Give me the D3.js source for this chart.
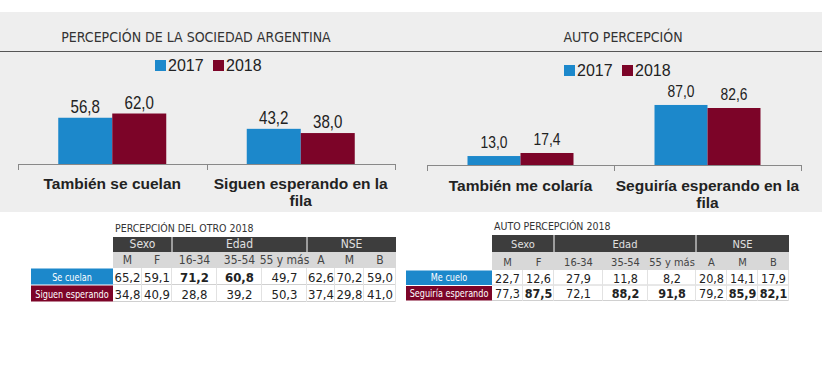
<!DOCTYPE html>
<html>
<head>
<meta charset="utf-8">
<script src="https://cdn.jsdelivr.net/npm/d3@7"></script>
<style>
  body { margin: 0; background: #fff; }
  svg { display: block; }
  .sans { font-family: "Liberation Sans", Arial, sans-serif; }
  .tbl { font-family: "DejaVu Sans Condensed", "DejaVu Sans", sans-serif; }
</style>
</head>
<body>
<svg width="822" height="390"></svg>
<script>
// --- data ---
var years = ["2017", "2018"];

var socCats = ["También se cuelan", "Siguen esperando en la fila"];
var soc2017 = [56.8, 43.2];
var soc2018 = [62.0, 38.0];

var autoCats = ["También me colaría", "Seguiría esperando en la fila"];
var auto2017 = [13.0, 87.0];
var auto2018 = [17.4, 82.6];

var groups = ["Sexo", "Edad", "NSE"];
var groupSpan = [2, 3, 3];
var cols = ["M", "F", "16-34", "35-54", "55 y más", "A", "M", "B"];

var otroRows = ["Se cuelan", "Siguen esperando"];
var otroSeCuelan = [65.2, 59.1, 71.2, 60.8, 49.7, 62.6, 70.2, 59.0];
var otroSiguen   = [34.8, 40.9, 28.8, 39.2, 50.3, 37.4, 29.8, 41.0];
var otroBold = [[2, 3], []];

var autoRows = ["Me cuelo", "Seguiría esperando"];
var autoMeCuelo  = [22.7, 12.6, 27.9, 11.8, 8.2, 20.8, 14.1, 17.9];
var autoSeguiria = [77.3, 87.5, 72.1, 88.2, 91.8, 79.2, 85.9, 82.1];
var autoBold = [[], [1, 3, 4, 6, 7]];

var colors = { "2017": "#1c88cb", "2018": "#7c0428" };
var fmt = function (v) { return d3.format(".1f")(v).replace(".", ","); };

var svg = d3.select("svg");

// grey band behind both charts
svg.append("rect").attr("x", 0).attr("y", 12).attr("width", 822).attr("height", 200).attr("fill", "#eeeeee");
svg.append("line").attr("x1", 0).attr("x2", 822).attr("y1", 51.5).attr("y2", 51.5)
  .attr("stroke", "#555").attr("stroke-width", 1.2);

function barChart(o) {
  var g = svg.append("g");
  var data = o.cats.map(function (c, i) { return { cat: c, vals: [o.a[i], o.b[i]] }; });

  var x0 = d3.scaleBand().domain(o.cats).range(o.xr);
  var x1 = d3.scaleBand().domain(years)
    .range([(x0.bandwidth() - o.group) / 2, (x0.bandwidth() + o.group) / 2]);
  var y = d3.scaleLinear().domain([0, o.max]).range([o.base, o.top]);

  g.append("text").attr("x", o.titleX).attr("y", 42).attr("text-anchor", "middle")
    .attr("font-family", "DejaVu Sans Condensed").attr("font-size", 14).attr("fill", "#333")
    .text(o.title);

  // legend
  var lg = g.append("g").attr("transform", "translate(" + o.legX + "," + o.legY + ")");
  years.forEach(function (yr, i) {
    lg.append("rect").attr("x", i * 58).attr("y", -11).attr("width", 11).attr("height", 11).attr("fill", colors[yr]);
    lg.append("text").attr("class", "sans").attr("x", i * 58 + 13).attr("y", 0)
      .attr("font-size", 16).attr("fill", "#222").text(yr);
  });

  var cg = g.selectAll(".cat").data(data).enter().append("g")
    .attr("transform", function (d) { return "translate(" + x0(d.cat) + ",0)"; });

  var pairs = function (d) { return d.vals.map(function (v, i) { return { yr: years[i], v: v }; }); };

  cg.selectAll("rect").data(pairs).enter().append("rect")
    .attr("x", function (d) { return x1(d.yr); })
    .attr("width", x1.bandwidth())
    .attr("y", function (d) { return y(d.v); })
    .attr("height", function (d) { return y(0) - y(d.v); })
    .attr("fill", function (d) { return colors[d.yr]; });

  // value labels, squeezed horizontally like the narrow font in the original
  cg.selectAll(".val").data(pairs).enter().append("text").attr("class", "sans")
    .attr("transform", function (d) {
      return "translate(" + (x1(d.yr) + x1.bandwidth() / 2) + "," + (y(d.v) - o.gap) + ") scale(0.84,1)";
    })
    .attr("text-anchor", "middle").attr("font-size", o.valSize).attr("fill", "#222")
    .text(function (d) { return fmt(d.v); });

  // axis line with ticks at band edges
  g.append("line").attr("x1", o.xr[0]).attr("x2", o.xr[1]).attr("y1", o.base + 0.5).attr("y2", o.base + 0.5)
    .attr("stroke", "#888");
  var edges = o.cats.map(function (c) { return x0(c); }).concat([o.xr[1]]);
  g.selectAll(".tk").data(edges).enter().append("line")
    .attr("x1", function (d) { return Math.round(d) + 0.5; }).attr("x2", function (d) { return Math.round(d) + 0.5; })
    .attr("y1", o.base).attr("y2", o.base + 6).attr("stroke", "#888");

  // category labels (wrapped)
  cg.append("text").attr("class", "sans")
    .attr("text-anchor", "middle").attr("font-size", 15.5).attr("font-weight", "bold").attr("fill", "#222")
    .selectAll("tspan").data(function (d) {
      var w = d.cat.split(" ");
      return w.length > 3 ? [w.slice(0, -1).join(" "), w[w.length - 1]] : [d.cat];
    })
    .enter().append("tspan")
    .attr("x", x0.bandwidth() / 2)
    .attr("y", function (d, i) { return o.base + o.labY + i * 17; })
    .text(function (d) { return d; });
}

barChart({ title: "PERCEPCIÓN DE LA SOCIEDAD ARGENTINA", titleX: 196, cats: socCats, a: soc2017, b: soc2018,
  xr: [18, 395], base: 164, top: 107, max: 70, group: 108, gap: 5, valSize: 18, legX: 155, legY: 71, labY: 25 });
barChart({ title: "AUTO PERCEPCIÓN", titleX: 623, cats: autoCats, a: auto2017, b: auto2018,
  xr: [427, 801], base: 165, top: 96, max: 100, group: 106, gap: 8, valSize: 16.5, legX: 564, legY: 76, labY: 26 });

function table(o) {
  var g = svg.append("g");
  var xs = [o.x];
  o.widths.forEach(function (w, i) { xs.push(xs[i] + w); });
  var right = xs[xs.length - 1];

  g.append("text").attr("class", "tbl").attr("x", o.x + 2).attr("y", o.y - 5)
    .attr("font-size", 10.5).attr("fill", "#333").text(o.title);

  // group header
  g.append("rect").attr("x", o.x).attr("y", o.y).attr("width", right - o.x).attr("height", o.h[0]).attr("fill", "#3d3d3d");
  var ci = 0;
  groups.forEach(function (gr, i) {
    var a = xs[ci], b = xs[ci + groupSpan[i]];
    g.append("text").attr("class", "tbl").attr("x", (a + b) / 2).attr("y", o.y + o.h[0] - 4)
      .attr("text-anchor", "middle").attr("font-size", o.fs).attr("fill", "#e0e0e0").text(gr);
    if (i > 0) g.append("line").attr("x1", a).attr("x2", a).attr("y1", o.y).attr("y2", o.y + o.h[0] + o.h[1]).attr("stroke", "#fff");
    ci += groupSpan[i];
  });

  // column header
  var y2 = o.y + o.h[0];
  g.append("rect").attr("x", o.x).attr("y", y2).attr("width", right - o.x).attr("height", o.h[1]).attr("fill", "#d8d8d8");
  g.selectAll(".ch").data(cols).enter().append("text").attr("class", "tbl")
    .attr("x", function (d, i) { return (xs[i] + xs[i + 1]) / 2; }).attr("y", y2 + o.h[1] - 4)
    .attr("text-anchor", "middle").attr("font-size", o.fs).attr("fill", "#444").text(function (d) { return d; });

  // data rows
  var ry = y2 + o.h[1];
  o.rows.forEach(function (lab, r) {
    var yy = ry + r * o.h[2];
    g.append("rect").attr("x", o.lx).attr("y", yy + 0.5).attr("width", o.x - o.lx).attr("height", o.h[2] - 1)
      .attr("fill", r === 0 ? colors["2017"] : colors["2018"]);
    g.append("text").attr("class", "tbl")
      .attr("transform", "translate(" + ((o.lx + o.x) / 2) + "," + (yy + o.h[2] - 4.5) + ") scale(0.82,1)")
      .attr("text-anchor", "middle").attr("font-size", o.lfs).attr("fill", "#fff").text(lab);
    g.append("line").attr("x1", o.x).attr("x2", right).attr("y1", yy + o.h[2] - 0.5).attr("y2", yy + o.h[2] - 0.5)
      .attr("stroke", "#d0d0d0");
    g.selectAll(".v" + r).data(o.vals[r]).enter().append("text").attr("class", "tbl")
      .attr("x", function (d, i) { return (xs[i] + xs[i + 1]) / 2; }).attr("y", yy + o.h[2] - 3)
      .attr("text-anchor", "middle").attr("font-size", o.vfs).attr("fill", "#222")
      .attr("font-weight", function (d, i) { return o.bold[r].indexOf(i) >= 0 ? "bold" : "normal"; })
      .text(fmt);
  });
  g.selectAll(".vl").data(xs.slice(1)).enter().append("line")
    .attr("x1", function (d) { return d - 0.5; }).attr("x2", function (d) { return d - 0.5; })
    .attr("y1", ry).attr("y2", ry + o.rows.length * o.h[2]).attr("stroke", "#e2e2e2");
}

table({ title: "PERCEPCIÓN DEL OTRO 2018", x: 113, y: 237, lx: 31, widths: [29, 30, 45, 45, 45, 28, 29, 32],
  h: [15, 16, 17], rows: otroRows, vals: [otroSeCuelan, otroSiguen], bold: otroBold, fs: 12, lfs: 11, vfs: 13 });
table({ title: "AUTO PERCEPCIÓN 2018", x: 492, y: 235, lx: 406, widths: [31, 31, 49, 45, 48, 31, 31, 31],
  h: [17, 18, 15.5], rows: autoRows, vals: [autoMeCuelo, autoSeguiria], bold: autoBold, fs: 11, lfs: 11, vfs: 12.5 });
</script>
</body>
</html>
